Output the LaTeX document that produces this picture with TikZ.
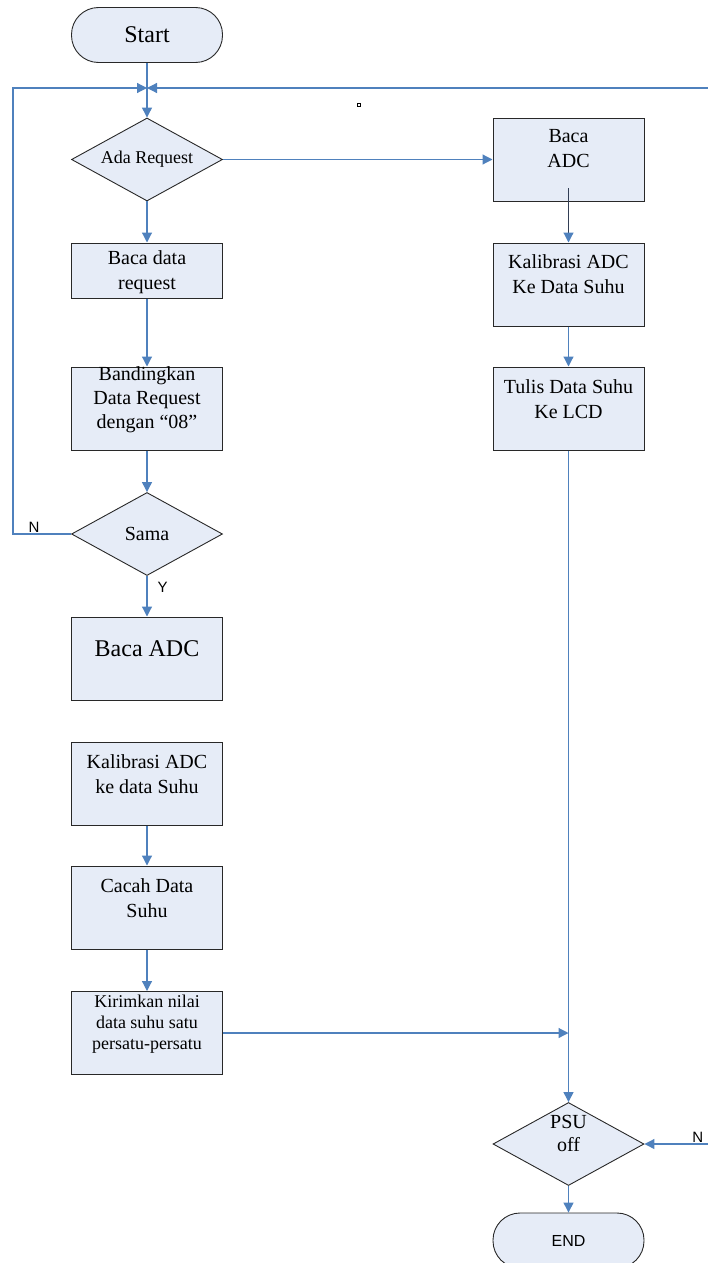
\documentclass[tikz,border=0pt]{standalone}
\usepackage{fontspec}
\setmainfont{Liberation Serif}
\newfontfamily\arialfont{Liberation Sans}
\usepackage{tikz}
\usetikzlibrary{shapes.geometric, arrows.meta, calc}
\definecolor{FlowFill}{RGB}{230, 236, 247}
\definecolor{FlowLine}{RGB}{79, 129, 189}
\definecolor{FlowEdge}{RGB}{40, 40, 40}
\definecolor{FlowDark}{RGB}{50, 62, 85}

\tikzset{
  procbox/.style={rectangle, fill=FlowFill, draw=FlowEdge, line width=1pt,
    minimum width=151pt, minimum height=83pt, inner sep=0pt},
  boxtext/.style={yshift=9pt, align=center, inner sep=0pt,
    font=\fontsize{20}{25}\selectfont},
  decision/.style={diamond, aspect=2, fill=FlowFill, draw=FlowEdge, line width=0.9pt,
    minimum width=151pt, minimum height=83pt, inner sep=0pt, align=center},
  terminal/.style={rectangle, rounded corners=27pt, fill=FlowFill, draw=FlowEdge,
    line width=0.9pt, minimum width=151pt, minimum height=55pt, inner sep=0pt},
  flow/.style={draw=FlowLine, line width=1.2pt, -{Triangle[length=10pt, width=10pt]}},
  darkflow/.style={draw=FlowDark, line width=1.2pt,
    -{Triangle[length=10pt, width=10pt, color=FlowLine]}},
  ynlabel/.style={font=\arialfont\fontsize{15}{18}\selectfont, inner sep=1pt}
}

\begin{document}
\begin{tikzpicture}[x=1pt, y=-1pt]
  \useasboundingbox (0,0) rectangle (708,1263);

  % left column
  \node[terminal, font=\fontsize{24}{28}\selectfont] (start) at (147,35) {Start};
  \node[decision, font=\fontsize{18}{21}\selectfont] (ada) at (147,159.5) {Ada Request};
  \node[procbox, minimum height=55pt,
    label={[boxtext, yshift=-11pt]center:Baca data\\request}] (bacareq) at (147,270.5) {};
  \node[procbox, label={[boxtext, font=\fontsize{20}{24}\selectfont]center:Bandingkan\\Data Request\\dengan ``08''}]
    (banding) at (147,408.5) {};
  \node[decision, font=\fontsize{20}{24}\selectfont] (sama) at (147,534) {Sama};
  \node[procbox, label={[boxtext, yshift=1pt, font=\fontsize{24}{28}\selectfont]center:Baca ADC}]
    (bacaL) at (147,658.5) {};
  \node[procbox, label={[boxtext]center:Kalibrasi ADC\\ke data Suhu}] (kalibL) at (147,783.5) {};
  \node[procbox, label={[boxtext]center:Cacah Data\\Suhu}] (cacah) at (147,907.5) {};
  \node[procbox, label={[boxtext, font=\fontsize{18}{21}\selectfont]center:Kirimkan nilai\\data suhu satu\\persatu-persatu}]
    (kirim) at (147,1033) {};

  % right column
  \node[procbox, label={[boxtext, yshift=2pt]center:Baca\\ADC}] (bacaR) at (568.5,159.5) {};
  \node[procbox, label={[boxtext, yshift=1pt]center:Kalibrasi ADC\\Ke Data Suhu}] (kalibR) at (568.5,284.5) {};
  \node[procbox, label={[boxtext]center:Tulis Data Suhu\\Ke LCD}] (tulis) at (568.5,408.5) {};
  \node[decision, label={[boxtext, yshift=2pt, font=\fontsize{20}{23}\selectfont]center:PSU\\off}]
    (psu) at (568.5,1144) {};
  \node[terminal, font=\arialfont\fontsize{16}{19}\selectfont] (endnode) at (568.5,1240.5) {END};

  \coordinate (loopjoin) at (147,88);
  \coordinate (rightin) at (708,88);
  \coordinate (bacaRin) at ($(bacaR.center)+(0,28.5)$);
  \coordinate (psuin) at (708,1144);

  % connectors
  \draw[flow] (start) -- (ada);
  \draw[flow] (rightin) -- (loopjoin);
  \draw[flow] (sama.west) -- node[ynlabel, pos=0.64, above] {N} ++(-58,0) |- (loopjoin);
  \draw[flow] (ada) -- (bacaR);
  \draw[flow] (ada) -- (bacareq);
  \draw[flow] (bacareq) -- (banding);
  \draw[flow] (banding) -- (sama);
  \draw[flow] (sama) -- node[ynlabel, pos=0.28, anchor=west, xshift=9pt] {Y} (bacaL);
  \draw[flow] (kalibL) -- (cacah);
  \draw[flow] (cacah) -- (kirim);
  \draw[darkflow] (bacaRin) -- (kalibR);
  \draw[flow] (kalibR) -- (tulis);
  \draw[flow] (tulis) -- (psu);
  \draw[flow] (kirim.east) -- (kirim.east -| tulis.south);
  \draw[flow] (psuin) -- node[ynlabel, pos=0.16, above] {N} (psu);
  \draw[flow] (psu) -- (endnode);

  % stray mark
  \draw[line width=0.6pt] (357.5,103.5) rectangle (360.5,106.5);
\end{tikzpicture}
\end{document}
